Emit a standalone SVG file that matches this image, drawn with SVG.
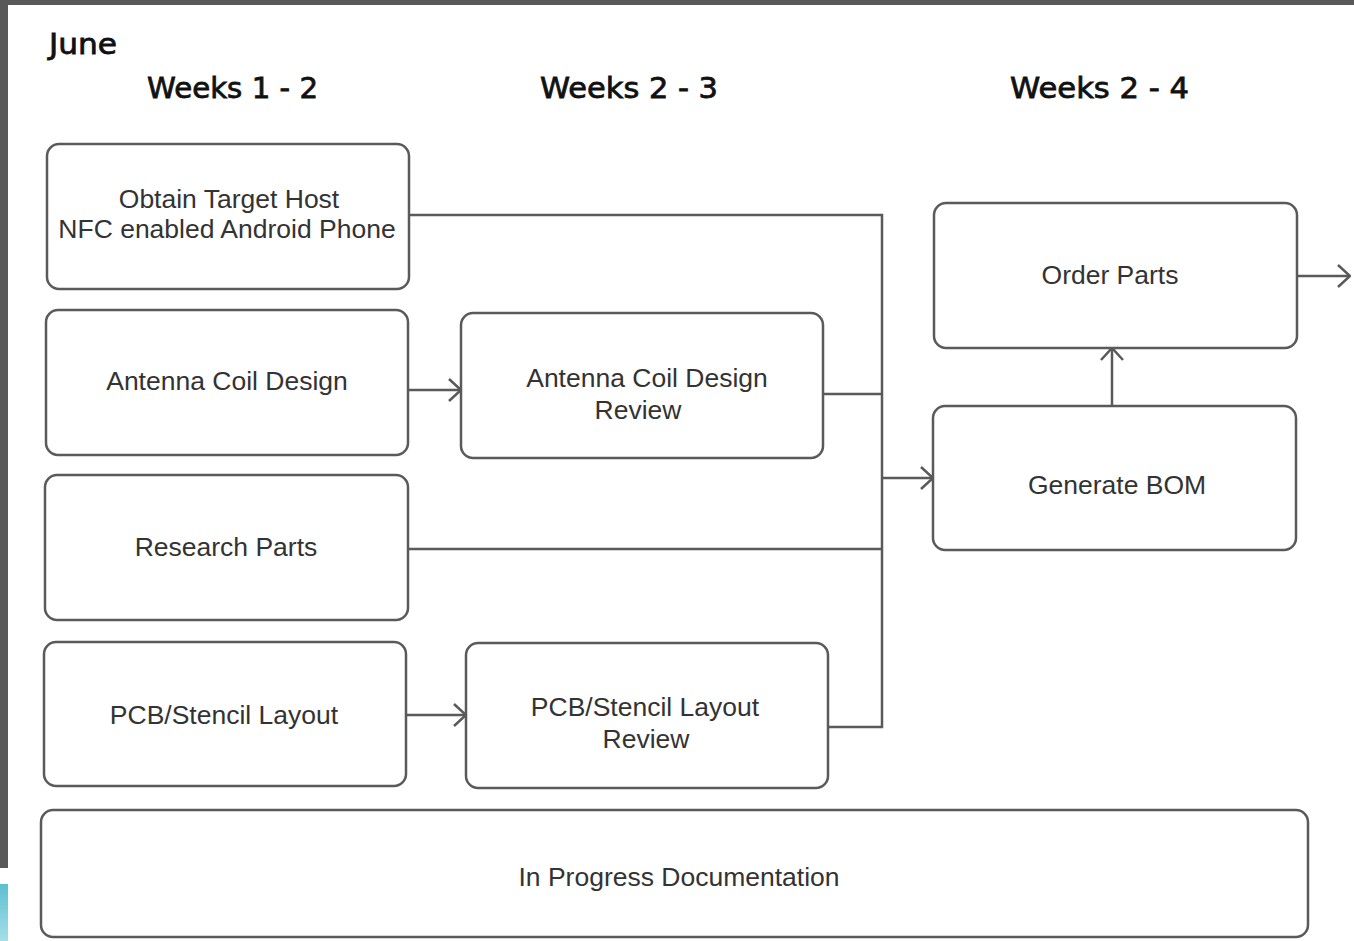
<svg xmlns="http://www.w3.org/2000/svg" width="1354" height="941" viewBox="0 0 1354 941">
<defs>
<style>
.box{fill:#fff;stroke:#5a5a5a;stroke-width:2.5}
.lbl{font-family:"Liberation Sans",Arial,sans-serif;font-size:26.5px;fill:#333;text-anchor:middle}
.hdr{font-family:"Comic Sans MS","DejaVu Sans",sans-serif;font-size:29px;fill:#111;stroke:#111;stroke-width:0.8}
.con{fill:none;stroke:#5a5a5a;stroke-width:2.5}
</style>
<marker id="arr" viewBox="0 0 14 24" refX="13" refY="12" markerWidth="14" markerHeight="24" markerUnits="userSpaceOnUse" orient="auto">
<path d="M1,1 L13,12 L1,23" fill="none" stroke="#5a5a5a" stroke-width="2.5"/>
</marker>
<linearGradient id="cy" x1="0" y1="0" x2="0" y2="1">
<stop offset="0" stop-color="#5cbfd0"/>
<stop offset="1" stop-color="#a6dfe8"/>
</linearGradient>
</defs>
<rect x="0" y="0" width="1354" height="941" fill="#fff"/>
<rect x="0" y="0" width="1354" height="5" fill="#595959"/>
<rect x="0" y="0" width="8" height="868" fill="#595959"/>
<rect x="0" y="884" width="8" height="57" fill="url(#cy)"/>

<g id="headers">
<text class="hdr" x="49" y="54" textLength="68" lengthAdjust="spacingAndGlyphs">June</text>
<text class="hdr" x="147" y="98" textLength="171" lengthAdjust="spacingAndGlyphs">Weeks 1 - 2</text>
<text class="hdr" x="540" y="98" textLength="178" lengthAdjust="spacingAndGlyphs">Weeks 2 - 3</text>
<text class="hdr" x="1010" y="98" textLength="179" lengthAdjust="spacingAndGlyphs">Weeks 2 - 4</text>
</g>

<g id="connectors">
<path class="con" d="M409,215 H882 V727 H828"/>
<path class="con" d="M823,394 H882"/>
<path class="con" d="M408,549 H882"/>
<path class="con" d="M882,478 H933" marker-end="url(#arr)"/>
<path class="con" d="M408,390 H461" marker-end="url(#arr)"/>
<path class="con" d="M406,715 H466" marker-end="url(#arr)"/>
<path class="con" d="M1112,406 V348" marker-end="url(#arr)"/>
<path class="con" d="M1297,276 H1350" marker-end="url(#arr)"/>
</g>

<g id="obtain-host">
<rect class="box" x="47" y="144" width="362" height="145" rx="12"/>
<text class="lbl" x="229" y="208">Obtain Target Host</text>
<text class="lbl" x="227" y="238">NFC enabled Android Phone</text>
</g>
<g id="antenna-design">
<rect class="box" x="46" y="310" width="362" height="145" rx="12"/>
<text class="lbl" x="227" y="390">Antenna Coil Design</text>
</g>
<g id="research-parts">
<rect class="box" x="45" y="475" width="363" height="145" rx="12"/>
<text class="lbl" x="226" y="556">Research Parts</text>
</g>
<g id="pcb-layout">
<rect class="box" x="44" y="642" width="362" height="144" rx="12"/>
<text class="lbl" x="224" y="724">PCB/Stencil Layout</text>
</g>
<g id="antenna-review">
<rect class="box" x="461" y="313" width="362" height="145" rx="12"/>
<text class="lbl" x="647" y="387">Antenna Coil Design</text>
<text class="lbl" x="638" y="419">Review</text>
</g>
<g id="pcb-review">
<rect class="box" x="466" y="643" width="362" height="145" rx="12"/>
<text class="lbl" x="645" y="716">PCB/Stencil Layout</text>
<text class="lbl" x="646" y="748">Review</text>
</g>
<g id="order-parts">
<rect class="box" x="934" y="203" width="363" height="145" rx="12"/>
<text class="lbl" x="1110" y="284">Order Parts</text>
</g>
<g id="generate-bom">
<rect class="box" x="933" y="406" width="363" height="144" rx="12"/>
<text class="lbl" x="1117" y="494">Generate BOM</text>
</g>
<g id="documentation">
<rect class="box" x="41" y="810" width="1267" height="127" rx="12"/>
<text class="lbl" x="679" y="886">In Progress Documentation</text>
</g>
</svg>
